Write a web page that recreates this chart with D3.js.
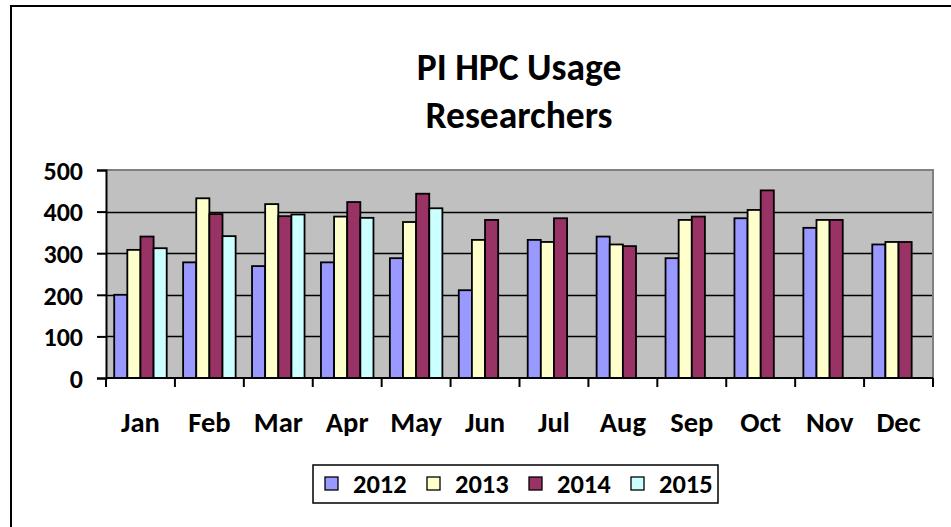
<!DOCTYPE html>
<html>
<head>
<meta charset="utf-8">
<script src="https://cdn.jsdelivr.net/npm/d3@7"></script>
<style>
  html, body { margin: 0; padding: 0; background: #fff; }
  svg { display: block; }
  text { font-family: Carlito, "Liberation Sans Narrow", "Open Sans Condensed", "DejaVu Sans Condensed", sans-serif; font-weight: bold; fill: #000; }
</style>
</head>
<body>
<svg id="chart" width="951" height="527"></svg>
<script>
const months = ["Jan","Feb","Mar","Apr","May","Jun","Jul","Aug","Sep","Oct","Nov","Dec"];
const seriesNames = ["2012","2013","2014","2015"];
const colors = ["#9999FF","#FFFFCC","#993366","#CCFFFF"];
const v2012 = [200,278,269,278,288,211,332,340,288,384,361,321];
const v2013 = [308,432,418,388,375,332,327,321,380,404,380,327];
const v2014 = [340,394,389,423,443,380,384,317,388,451,380,327];
const v2015 = [312,341,393,385,408,null,null,null,null,null,null,null];
const yTicks = [0,100,200,300,400,500];
const titleLines = ["PI HPC Usage","Researchers"];

const values = [v2012, v2013, v2014, v2015];

const svg = d3.select("#chart");
const W = 951, H = 527;

// outer frame
svg.append("rect").attr("x", 11).attr("y", 6).attr("width", W + 20).attr("height", H + 20)
  .attr("fill", "#fff").attr("stroke", "#000").attr("stroke-width", 2);

const plot = {left: 106, right: 933, top: 170, bottom: 378};

const x0 = d3.scaleBand().domain(months).range([plot.left, plot.right]).paddingInner(0).paddingOuter(0);
const x1 = d3.scaleBand().domain(seriesNames).range([0, x0.bandwidth()]).paddingInner(0).paddingOuter(0.625);
const y = d3.scaleLinear().domain([0, 500]).range([plot.bottom, plot.top]);

// plot background
svg.append("rect").attr("x", plot.left).attr("y", plot.top)
  .attr("width", plot.right - plot.left).attr("height", plot.bottom - plot.top)
  .attr("fill", "#C0C0C0");

// gridlines
svg.append("g").selectAll("line").data(yTicks.filter(t => t > 0 && t < 500)).join("line")
  .attr("x1", plot.left).attr("x2", plot.right)
  .attr("y1", d => Math.round(y(d)) + 0.5).attr("y2", d => Math.round(y(d)) + 0.5)
  .attr("stroke", "#000").attr("stroke-width", 1.6);

// top & right plot border (grey)
svg.append("path")
  .attr("d", `M${plot.left},${plot.top}H${plot.right}V${plot.bottom}`)
  .attr("fill", "none").attr("stroke", "#808080").attr("stroke-width", 2);

// bars
const groups = svg.append("g").selectAll("g").data(months).join("g")
  .attr("transform", d => `translate(${x0(d)},0)`);
groups.selectAll("rect")
  .data((m, i) => seriesNames.map((s, k) => ({s, k, v: values[k][i]})).filter(d => d.v != null))
  .join("rect")
  .attr("x", d => x1(d.s))
  .attr("width", x1.bandwidth())
  .attr("y", d => y(d.v))
  .attr("height", d => y(0) - y(d.v))
  .attr("fill", d => colors[d.k])
  .attr("stroke", "#000").attr("stroke-width", 1.8);

// y axis
const yAxis = d3.axisLeft(y).tickValues(yTicks).tickSize(9).tickPadding(14);
const gy = svg.append("g").attr("transform", `translate(${plot.left},0)`).call(yAxis);
gy.select(".domain").attr("stroke", "#000").attr("stroke-width", 2);
gy.selectAll(".tick line").attr("stroke", "#000").attr("stroke-width", 2);
gy.selectAll(".tick text").style("font-size", "26px").attr("dy", "0.36em");

// x axis with ticks at category boundaries
const gx = svg.append("g").attr("transform", `translate(0,${plot.bottom})`);
gx.append("line").attr("x1", plot.left).attr("x2", plot.right).attr("y1", 0).attr("y2", 0)
  .attr("stroke", "#000").attr("stroke-width", 2);
const boundaries = months.map(m => x0(m)).concat([plot.right]);
gx.selectAll("line.tk").data(boundaries).join("line").attr("class", "tk")
  .attr("x1", d => d).attr("x2", d => d).attr("y1", 0).attr("y2", 9)
  .attr("stroke", "#000").attr("stroke-width", 2);
gx.selectAll("text").data(months).join("text")
  .attr("x", d => x0(d) + x0.bandwidth() / 2).attr("y", 54)
  .attr("text-anchor", "middle").style("font-size", "28.5px").text(d => d);

// title
svg.append("g").selectAll("text").data(titleLines).join("text")
  .attr("x", 519).attr("y", (d, i) => 80 + i * 48)
  .attr("text-anchor", "middle").style("font-size", "37.5px").text(d => d);

// legend
const lg = svg.append("g");
lg.append("rect").attr("x", 313).attr("y", 465).attr("width", 405).attr("height", 38)
  .attr("fill", "#fff").attr("stroke", "#000").attr("stroke-width", 1.5);
const items = lg.selectAll("g").data(seriesNames).join("g")
  .attr("transform", (d, i) => `translate(${325 + i * 102},477)`);
items.append("rect").attr("width", 13).attr("height", 13)
  .attr("fill", (d, i) => colors[i]).attr("stroke", "#000").attr("stroke-width", 1.3);
items.append("text").attr("x", 28).attr("y", 16).style("font-size", "26.5px").text(d => d);
</script>
</body>
</html>
